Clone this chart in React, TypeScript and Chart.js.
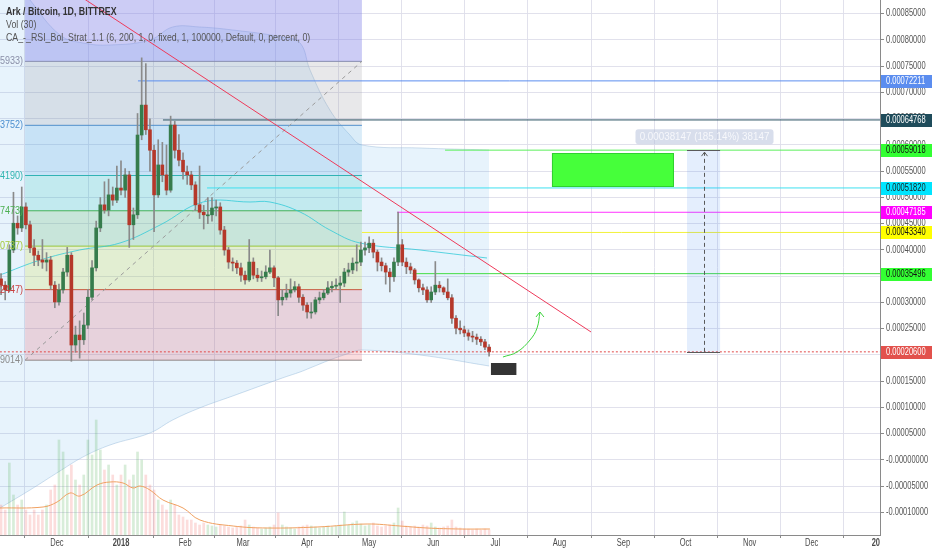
import React, { useEffect, useRef } from "react";
import { Chart, registerables } from "chart.js";
Chart.register(...registerables);

const SAT = 1e-8; // all price values below are in satoshi (1e-8 BTC)

// ---- axes (x = days since 2018-01-01) ----
const monthTickDays = [-31, 0, 31, 59, 90, 120, 151, 181, 212, 243, 273, 304, 334, 365];
const monthTickLabels = ["Dec", "2018", "Feb", "Mar", "Apr", "May", "Jun", "Jul", "Aug", "Sep", "Oct", "Nov", "Dec", "20"];
const boldTickLabels = ["2018", "20"];
const yTickSat = [-10000, -5000, 0, 5000, 10000, 15000, 20000, 25000, 30000, 35000, 40000, 45000, 50000, 55000, 60000, 65000, 70000, 75000, 80000, 85000];
const xMinDay = -58.51;
const xMaxDay = 367.03;
const yMinSat = -14286;
const yMaxSat = 87619;

// ---- candles (2-day candles, ARK/BTC) ----
const candleDays = [-58, -56, -54, -52, -50, -48, -46, -44, -42, -40, -38, -36, -34, -32, -30, -28, -26, -24, -22, -20, -18, -16, -14, -12, -10, -8, -6, -4, -2, 0, 2, 4, 6, 8, 10, 12, 14, 16, 18, 20, 22, 24, 26, 28, 30, 32, 34, 36, 38, 40, 42, 44, 46, 48, 50, 52, 54, 56, 58, 60, 62, 64, 66, 68, 70, 72, 74, 76, 78, 80, 82, 84, 86, 88, 90, 92, 94, 96, 98, 100, 102, 104, 106, 108, 110, 112, 114, 116, 118, 120, 122, 124, 126, 128, 130, 132, 134, 136, 138, 140, 142, 144, 146, 148, 150, 152, 154, 156, 158, 160, 162, 164, 166, 168, 170, 172, 174, 176, 178];
const firstOpen = 34500;
const closes = [33300, 32400, 40000, 45100, 44200, 48200, 44800, 40400, 39000, 38100,
  37700, 38100, 33300, 30100, 32400, 35800, 39000, 21900, 23800, 22900,
  25700, 31000, 36600, 44200, 48600, 47600, 50500, 49500, 51800, 51400,
  54300, 44800, 46700, 61900, 67600, 62900, 59000, 50500, 56200, 54300,
  51400, 63800, 59000, 57100, 54900, 54300, 52400, 48600, 47200, 46700,
  46700, 48000, 48200, 43800, 40000, 37700, 37500, 36600, 35200, 34300,
  37700, 35200, 34700, 34900, 35800, 36600, 34700, 30500, 31000, 31800,
  32400, 33000, 31000, 29500, 28200, 28200, 30500, 30900, 31800, 32800,
  33100, 33300, 33700, 35800, 36200, 37500, 37700, 40000, 40400, 41300,
  39600, 37700, 37000, 35800, 34900, 37700, 41000, 37700, 36800, 36200,
  34300, 32800, 32400, 30500, 32000, 33300, 32800, 32000, 30900, 27000,
  25100, 24800, 24200, 23600, 23400, 23000, 22500, 21500, 20600];
const highs = [35500, 34000, 41000, 51000, 46500, 52000, 49000, 45500, 42000, 39800,
  42000, 39500, 38800, 34000, 33500, 36500, 40500, 39500, 25500, 26500,
  28000, 32500, 38000, 45500, 50000, 53000, 53500, 52000, 56000, 57000,
  55500, 55000, 48000, 66000, 76600, 75500, 65000, 60000, 61000, 60500,
  60000, 65500, 64500, 62000, 58500, 56000, 55000, 53000, 56000, 48500,
  50000, 50000, 49500, 49000, 44500, 40500, 38500, 38000, 37500, 36000,
  42000, 38500, 36500, 36000, 37000, 40000, 37000, 35000, 32500, 33500,
  34500, 34000, 33500, 31500, 30000, 30000, 31000, 32000, 32500, 34000,
  34000, 34500, 35000, 36500, 37500, 38500, 41000, 41500, 41500, 42500,
  42000, 40000, 38500, 37500, 36500, 38500, 47200, 42000, 38500, 37500,
  36500, 34500, 33500, 33000, 33000, 37800, 34000, 33000, 34500, 31500,
  27500, 26500, 25500, 24800, 24500, 24000, 23500, 23000, 22000];
const lows = [31500, 30500, 32000, 39500, 43000, 43500, 44000, 39500, 37000, 37000,
  36500, 36000, 32500, 29000, 29500, 31800, 35000, 18800, 20500, 19400,
  22000, 25000, 30500, 36000, 43500, 47000, 46500, 48500, 49000, 50500,
  50000, 40500, 42000, 46000, 61000, 62000, 55000, 43500, 50000, 53000,
  50500, 51000, 57500, 56000, 53500, 52500, 51500, 47500, 46000, 44000,
  45000, 45500, 46500, 43000, 39000, 36500, 36000, 35500, 34000, 33500,
  34000, 34500, 34000, 34000, 34500, 35500, 33000, 27500, 29500, 30500,
  31000, 32000, 30000, 28500, 27000, 27000, 27800, 29800, 30500, 31500,
  32000, 32500, 30000, 33000, 35000, 35500, 36000, 37000, 39000, 39500,
  38500, 36000, 36000, 33500, 32000, 34000, 37000, 37000, 35500, 35500,
  33500, 32000, 31500, 30000, 30000, 31500, 32000, 31500, 30500, 26000,
  24000, 24000, 23500, 22800, 22500, 22000, 21800, 21000, 19800];
// relative volume (overlay pane)
const volumes = [30, 25, 72, 40, 30, 35, 25, 20, 25, 20,
  25, 30, 45, 50, 95, 83, 60, 70, 55, 50,
  60, 95, 80, 115, 85, 65, 70, 60, 50, 60,
  70, 55, 60, 83, 75, 60, 50, 45, 35, 30,
  25, 35, 30, 20, 18, 15, 15, 12, 10, 12,
  10, 9, 8, 10, 9, 8, 7, 8, 9, 15,
  10, 8, 7, 6, 7, 8, 10, 22, 10, 8,
  7, 6, 8, 9, 10, 9, 8, 7, 8, 9,
  8, 9, 10, 23, 10, 12, 14, 11, 9, 10,
  12, 9, 8, 9, 10, 12, 27, 14, 9, 8,
  9, 8, 10, 9, 12, 8, 7, 8, 9, 15,
  8, 7, 6, 6, 5, 6, 5, 6, 5];
const volMaDays = [-58.5, -37.7, -30.9, -24.7, -19.8, -11.6, -5.3, 1, 5.8, 9.2, 14, 20.3, 30, 38.2, 54.2, 70.6, 94.8, 119, 134.9, 148, 163.9, 178.4];
const volMa = [27, 28, 33, 42, 39, 50, 53, 52, 47, 49, 45, 35, 27, 15, 9, 7, 8, 11, 9, 7, 6, 6];

// ---- Bollinger bands ----
const bbDays = [-58.5, -44, -29.5, -18.4, -5.3, 14, 25, 38, 54, 78, 86.6, 91.4, 101, 110.7, 116.5, 144.6, 178];
const bbUpper = [95238, 87619, 80952, 79429, 79048, 80000, 82476, 82476, 81905, 80571, 79429, 74286, 66667, 61905, 60000, 59429, 59048];
const bbLower = [-9143, -5714, -2095, 571, 2857, 5143, 7619, 9905, 12190, 15619, 16762, 17524, 19048, 20381, 20952, 20000, 17905];
const bbMidDays = [-58.5, -39, -20, -0.5, 18.9, 39.7, 62.4, 72, 86.6, 101, 115.6, 144.6, 177];
const bbMid = [35238, 38095, 40000, 41333, 44762, 49143, 49143, 49143, 47238, 43810, 41333, 40000, 38476];

// ---- Fibonacci retracement ----
const fibStartDay = -46.4;
const fibEndDay = 116.5;
const fibCeiling = 96000;
const fibLevels = [75933, 63752, 54190, 47473, 40737, 32447, 19014];

// ---- horizontal levels drawn to the price axis ----
const levelValues = [72211, 64768, 59018, 51820, 47185, 43340, 35496];
const levelStartDays = [8.2, 20.3, 156.7, 41.6, 133.5, 116.5, 141];
const lastPrice = 20600;

// ---- drawings ----
const trendDays = [-20, 227.3];
const trendValues = [88400, 24381];
const targetBoxDays = [208.4, 267.4];
const targetBoxValues = [52000, 58476];
const measureDays = [273.7, 289.7];
const measureValues = [20600, 59018];
const measureLabel = "0.00038147 (185.14%) 38147";
const markerDays = [178.9, 191.2];
const markerValues = [16190, 18476];
const arrowDays = [184.7, 191.5, 197.8, 201.2, 202.6];
const arrowValues = [19619, 20571, 22857, 25143, 28190];

const legendLines = [
  "Ark / Bitcoin, 1D, BITTREX",
  "Vol (30)",
  "CA_-_RSI_Bol_Strat_1.1 (6, 200, 1, 0, fixed, 1, 100000, Default, 0, percent, 0)",
];

// ---- styles ----
const FONT = "'Liberation Sans', Arial, sans-serif";
const GRID = "rgba(222,222,234,0.9)";
const fibBandColors = ["rgba(120,120,230,0.38)", "rgba(150,150,160,0.22)", "rgba(70,160,220,0.2)", "rgba(0,188,170,0.16)", "rgba(76,175,80,0.2)", "rgba(205,220,57,0.22)", "rgba(230,80,90,0.2)"];
const fibLineColors = ["#8a8fa8", "#4c8fd0", "#2fb5b0", "#4caf50", "#a5c93a", "#c94040", "#8a8a8a"];
const levelLineColors = ["#5b8def", "#2b5262", "#5cf05c", "#3fe0f0", "#ff33ff", "#f2f23a", "#44dd44"];
const tagBg = ["#5b8def", "#1f4c5b", "#33ff33", "#00e5ff", "#ff00ff", "#ffff00", "#33ff33"];
const tagFg = ["#ffffff", "#ffffff", "#111111", "#1a1a1a", "#ffffff", "#111111", "#111111"];
const UP = "#367c4c";
const DOWN = "#b5382a";

function txt(ctx: CanvasRenderingContext2D, s: string, x: number, y: number, color: string, weight = "normal", align: CanvasTextAlign = "left", size = 10, sx = 0.75) {
  ctx.save();
  ctx.font = `${weight} ${size}px ${FONT}`;
  ctx.fillStyle = color;
  ctx.textAlign = align;
  ctx.textBaseline = "middle";
  ctx.translate(x, y);
  ctx.scale(sx, 1);
  ctx.fillText(s, 0, 0);
  ctx.restore();
}

const pt = (d: number, v: number) => ({ x: d, y: v * SAT });
const seg = (d0: number, d1: number, v: number) => [pt(d0, v), pt(d1, v)];

function buildDatasets() {
  const opens = closes.map((c, i) => (i === 0 ? firstOpen : closes[i - 1]));
  const ds: any[] = [];
  // Bollinger fill
  ds.push({ type: "line", data: bbDays.map((d, i) => pt(d, bbUpper[i])), borderColor: "rgba(150,185,215,0.45)", borderWidth: 1, pointRadius: 0, tension: 0.4, fill: "+1", backgroundColor: "rgba(66,160,230,0.13)", order: 30 });
  ds.push({ type: "line", data: bbDays.map((d, i) => pt(d, bbLower[i])), borderColor: "rgba(150,185,215,0.45)", borderWidth: 1, pointRadius: 0, tension: 0.4, fill: false, order: 30 });
  // Fib bands
  ds.push({ type: "line", data: seg(fibStartDay, fibEndDay, fibCeiling), borderWidth: 0, borderColor: "rgba(0,0,0,0)", pointRadius: 0, fill: "+1", backgroundColor: fibBandColors[0], order: 25 });
  fibLevels.forEach((v, i) => {
    ds.push({ type: "line", data: seg(fibStartDay, fibEndDay, v), borderColor: fibLineColors[i], borderWidth: 1, pointRadius: 0, fill: i < fibLevels.length - 1 ? "+1" : false, backgroundColor: fibBandColors[i + 1] || "rgba(0,0,0,0)", order: 25 });
  });
  // fib trend (dashed diagonal)
  ds.push({ type: "line", data: [pt(fibStartDay, fibLevels[6]), pt(fibEndDay, fibLevels[0])], borderColor: "#9a9a9a", borderWidth: 1, borderDash: [4, 4], pointRadius: 0, fill: false, order: 20 });
  // BB basis
  ds.push({ type: "line", data: bbMidDays.map((d, i) => pt(d, bbMid[i])), borderColor: "rgba(40,200,215,0.75)", borderWidth: 1, pointRadius: 0, tension: 0.4, fill: false, order: 19 });
  // horizontal levels
  levelValues.forEach((v, i) => {
    ds.push({ type: "line", data: seg(levelStartDays[i], xMaxDay + 2, v), borderColor: levelLineColors[i], borderWidth: 1, pointRadius: 0, fill: false, order: 18 });
  });
  // volume
  ds.push({ type: "bar", yAxisID: "yv", grouped: false, barThickness: 2, data: candleDays.map((d, i) => ({ x: d, y: volumes[i] })), backgroundColor: candleDays.map((_, i) => (closes[i] >= opens[i] ? "rgba(76,175,80,0.22)" : "rgba(239,83,80,0.2)")), order: 15 });
  ds.push({ type: "line", yAxisID: "yv", data: volMaDays.map((d, i) => ({ x: d, y: volMa[i] })), borderColor: "#f0a060", borderWidth: 1, pointRadius: 0, tension: 0.4, fill: false, order: 14 });
  // trend line
  ds.push({ type: "line", data: trendDays.map((d, i) => pt(d, trendValues[i])), borderColor: "#ee3a5a", borderWidth: 1, pointRadius: 0, fill: false, order: 10 });
  // candles
  ds.push({ type: "bar", grouped: false, barThickness: 1, data: candleDays.map((d, i) => ({ x: d, y: [lows[i] * SAT, highs[i] * SAT] })), backgroundColor: "#8a8a8a", order: 6 });
  ds.push({ type: "bar", grouped: false, barThickness: 3, minBarLength: 1, data: candleDays.map((d, i) => ({ x: d, y: [opens[i] * SAT, closes[i] * SAT] })), backgroundColor: candleDays.map((_, i) => (closes[i] >= opens[i] ? UP : DOWN)), order: 5 });
  // last price dotted line
  ds.push({ type: "line", data: seg(xMinDay - 2, xMaxDay + 2, lastPrice), borderColor: "#e04848", borderWidth: 1, borderDash: [2, 2], pointRadius: 0, fill: false, order: 4 });
  // green curved arrow
  ds.push({ type: "line", data: arrowDays.map((d, i) => pt(d, arrowValues[i])), borderColor: "#3fd43f", borderWidth: 1, pointRadius: 0, tension: 0.4, fill: false, order: 3 });
  return ds;
}

const overlay = {
  id: "overlay",
  afterDatasetsDraw(chart: any) {
    const ctx: CanvasRenderingContext2D = chart.ctx;
    const xs = chart.scales.x, ys = chart.scales.y;
    const X = (d: number) => xs.getPixelForValue(d);
    const Y = (v: number) => ys.getPixelForValue(v * SAT);
    ctx.save();
    // target box
    const tx0 = X(targetBoxDays[0]), tx1 = X(targetBoxDays[1]);
    const ty0 = Y(targetBoxValues[1]), ty1 = Y(targetBoxValues[0]);
    ctx.fillStyle = "#46ff3a";
    ctx.fillRect(tx0, ty0, tx1 - tx0, ty1 - ty0);
    ctx.strokeStyle = "#2fd12f";
    ctx.lineWidth = 1;
    ctx.strokeRect(tx0 + 0.5, ty0 + 0.5, tx1 - tx0 - 1, ty1 - ty0 - 1);
    // measure tool
    const mx0 = X(measureDays[0]), mx1 = X(measureDays[1]);
    const mTop = Y(measureValues[1]), mBot = Y(measureValues[0]);
    const mc = Math.round((mx0 + mx1) / 2) + 0.5;
    ctx.fillStyle = "rgba(66,133,244,0.14)";
    ctx.fillRect(mx0, mTop, mx1 - mx0, mBot - mTop);
    ctx.strokeStyle = "#5a5a5a";
    ctx.beginPath();
    ctx.moveTo(mx0, Math.round(mTop) + 0.5); ctx.lineTo(mx1, Math.round(mTop) + 0.5);
    ctx.moveTo(mx0, Math.round(mBot) + 0.5); ctx.lineTo(mx1, Math.round(mBot) + 0.5);
    ctx.stroke();
    ctx.setLineDash([4, 3]);
    ctx.beginPath();
    ctx.moveTo(mc, mBot); ctx.lineTo(mc, mTop + 2);
    ctx.stroke();
    ctx.setLineDash([]);
    ctx.beginPath();
    ctx.moveTo(mc - 3, mTop + 6); ctx.lineTo(mc, mTop + 2); ctx.lineTo(mc + 3, mTop + 6);
    ctx.stroke();
    // measure label
    const bw = 138, bh = 15;
    const bx = mc - bw / 2, by = mTop - 6 - bh;
    ctx.fillStyle = "rgba(178,190,218,0.5)";
    ctx.beginPath();
    (ctx as any).roundRect ? (ctx as any).roundRect(bx, by, bw, bh, 3) : ctx.rect(bx, by, bw, bh);
    ctx.fill();
    txt(ctx, measureLabel, mc, by + bh / 2 + 0.5, "#f7f8fc", "normal", "center", 10, 0.98);
    // marker block
    const kx0 = X(markerDays[0]), kx1 = X(markerDays[1]);
    const ky0 = Y(markerValues[1]), ky1 = Y(markerValues[0]);
    ctx.fillStyle = "#343434";
    ctx.fillRect(kx0, ky0, kx1 - kx0, ky1 - ky0);
    // arrow head for green arrow
    const ax = X(arrowDays[arrowDays.length - 1]), ay = Y(arrowValues[arrowValues.length - 1]);
    ctx.strokeStyle = "#3fd43f";
    ctx.beginPath();
    ctx.moveTo(ax - 4, ay + 5); ctx.lineTo(ax, ay); ctx.lineTo(ax + 4, ay + 5);
    ctx.stroke();
    // fib labels
    fibLevels.forEach((v, i) => {
      txt(ctx, `(${(v * SAT).toFixed(8)})`, X(fibStartDay) - 2, Y(v), fibLineColors[i], "normal", "right", 11, 0.82);
    });
    ctx.restore();
  },
  afterDraw(chart: any) {
    const ctx: CanvasRenderingContext2D = chart.ctx;
    const xs = chart.scales.x, ys = chart.scales.y;
    const area = chart.chartArea;
    // y tick labels
    ys.ticks.forEach((t: any) => {
      const y = ys.getPixelForValue(t.value);
      const s = Math.abs(t.value) < 1e-12 ? "-0.00000000" : t.value.toFixed(8);
      txt(ctx, s, area.right + 6, y, "#555555");
    });
    // x tick labels
    xs.ticks.forEach((t: any, i: number) => {
      const lbl = monthTickLabels[i];
      txt(ctx, lbl, xs.getPixelForValue(t.value), area.bottom + 8, "#4a4a4a", boldTickLabels.includes(lbl) ? "bold" : "normal", "center");
    });
    // price tags
    const tag = (v: number, bg: string, fg: string) => {
      const y = ys.getPixelForValue(v * SAT);
      ctx.fillStyle = bg;
      ctx.fillRect(area.right + 1, Math.round(y) - 6, 51, 13);
      txt(ctx, (v * SAT).toFixed(8), area.right + 6, Math.round(y) + 0.5, fg);
    };
    levelValues.forEach((v, i) => tag(v, tagBg[i], tagFg[i]));
    tag(lastPrice, "#e2514c", "#ffffff");
    // legend
    txt(ctx, legendLines[0], 6, 12, "#333333", "bold", "left", 11, 0.8);
    txt(ctx, legendLines[1], 6, 25, "#555555", "normal", "left", 11, 0.8);
    txt(ctx, legendLines[2], 6, 38, "#555555", "normal", "left", 11, 0.8);
  },
};

export default function App() {
  const ref = useRef<HTMLCanvasElement>(null);
  useEffect(() => {
    document.body.style.margin = "0";
    const chart = new Chart(ref.current as HTMLCanvasElement, {
      type: "line",
      data: { datasets: buildDatasets() },
      options: {
        responsive: false,
        animation: false,
        devicePixelRatio: 1,
        events: [],
        layout: { padding: 0 },
        plugins: { legend: { display: false }, tooltip: { enabled: false }, title: { display: false } },
        scales: {
          x: {
            type: "linear", min: xMinDay, max: xMaxDay, offset: false,
            afterBuildTicks: (s: any) => { s.ticks = monthTickDays.map((v) => ({ value: v })); },
            afterFit: (s: any) => { s.height = 15; },
            ticks: { display: false },
            grid: { color: GRID, drawTicks: true, tickLength: 3, tickColor: "#8a8a8a" },
            border: { color: "#8a8a8a" },
          },
          y: {
            type: "linear", position: "right", min: yMinSat * SAT, max: yMaxSat * SAT,
            afterBuildTicks: (s: any) => { s.ticks = yTickSat.map((v) => ({ value: v * SAT })); },
            afterFit: (s: any) => { s.width = 52; },
            ticks: { display: false },
            grid: { color: GRID, drawTicks: true, tickLength: 4, tickColor: "#8a8a8a" },
            border: { color: "#8a8a8a" },
          },
          yv: { type: "linear", display: false, min: 0, max: 535 },
        },
      } as any,
      plugins: [overlay as any],
    });
    return () => chart.destroy();
  }, []);
  return (
    <div style={{ width: 932, height: 550 }}>
      <canvas ref={ref} width={932} height={550} style={{ display: "block" }} />
    </div>
  );
}
